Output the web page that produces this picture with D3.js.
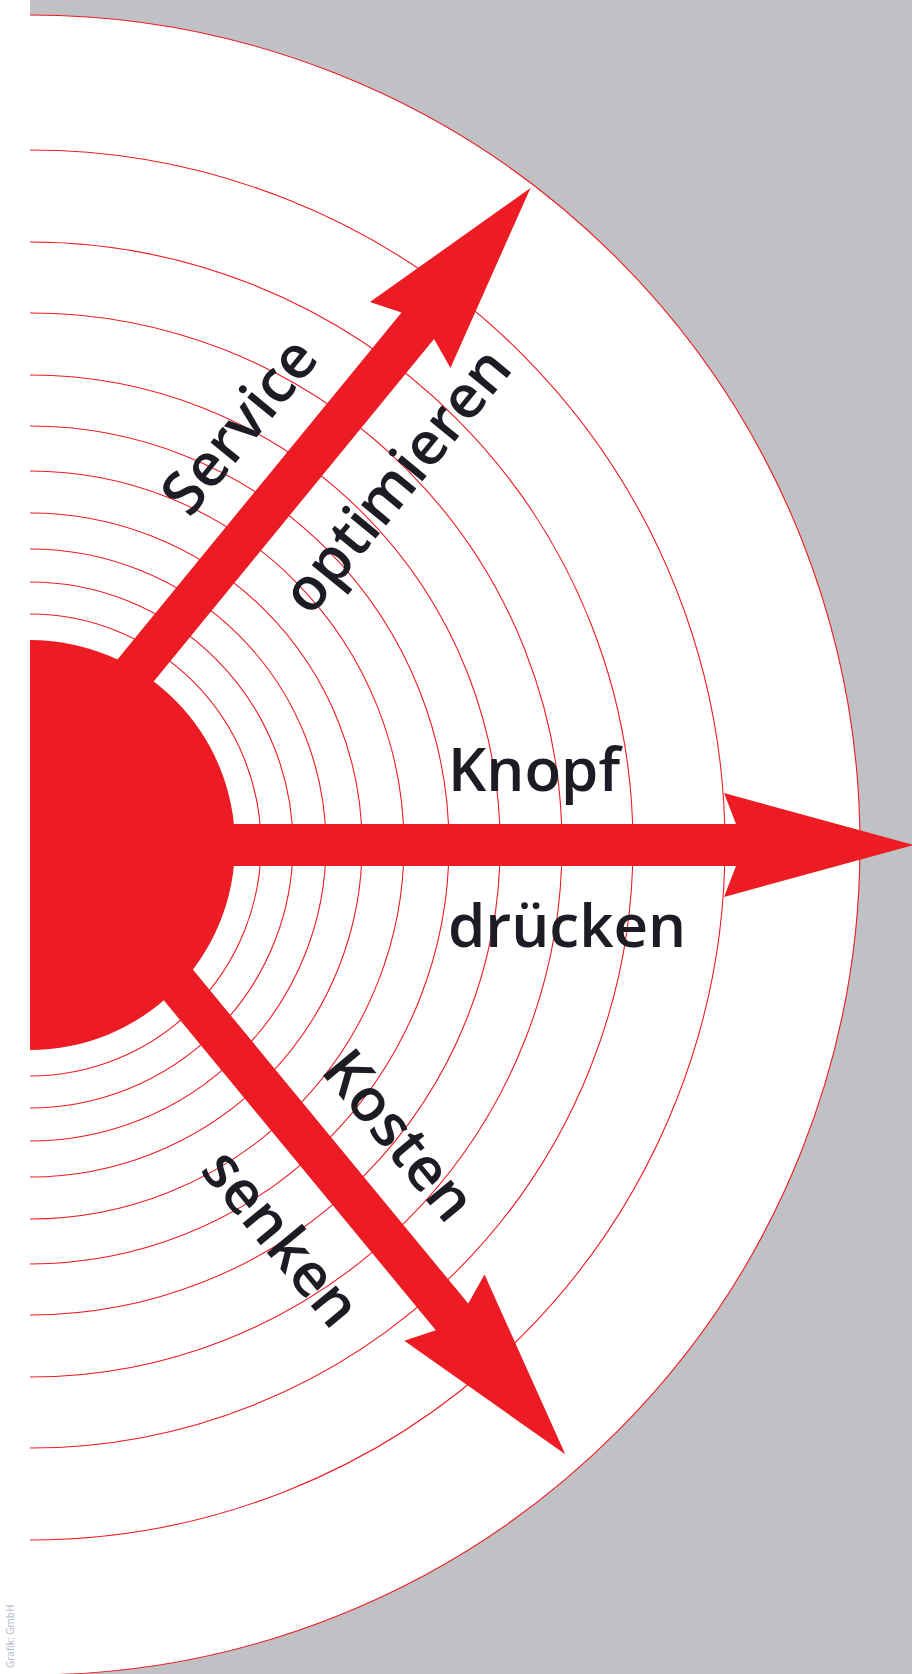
<!DOCTYPE html>
<html>
<head>
<meta charset="utf-8">
<script src="https://cdn.jsdelivr.net/npm/d3@7"></script>
<style>
  html, body { margin: 0; padding: 0; background: #fff; }
  svg { display: block; }
</style>
</head>
<body>
<div id="chart"></div>
<script>
const width = 912;
const height = 1674;

// ring radii from the hub outward (px at full size)
const rings = [231, 263, 296, 332, 374, 419, 470, 532, 603, 695];
const outerRadius = 830;
const hubRadius = 205;

// arrows: tip position in polar coords around the hub, heading of the shaft,
// and shaft length measured back from the tip
const arrowTipAngles = [-52.7, 0, 48.7];
const arrowTipDist = [826, 884, 811];
const arrowHeadings = [-50.7, 0, 50.5];
const arrowBack = [740, 860, 760];
const labelsTop = ["Service", "Knopf", "Kosten"];
const labelsBottom = ["optimieren", "drücken", "senken"];
// where the labels start, counted back from the tip
const labelStart = [472, 466, 452];

const credit = "Grafik: GmbH";

const cx = 30, cy = 845;
const red = "#ed1c24";

const r = d3.scaleLinear().domain([0, outerRadius]).range([0, outerRadius]);
const rad = (deg) => (deg * Math.PI) / 180;

const svg = d3.select("#chart").append("svg")
  .attr("width", width)
  .attr("height", height)
  .attr("viewBox", [0, 0, width, height]);

svg.append("rect")
  .attr("width", width).attr("height", height)
  .attr("fill", "#c0c1c5");

svg.append("rect")
  .attr("width", cx).attr("height", height)
  .attr("fill", "#fff");

const g = svg.append("g").attr("transform", `translate(${cx},${cy})`);

const half = d3.arc().innerRadius(0).startAngle(0).endAngle(Math.PI);
const halfLine = (rr) => {
  const p = d3.path();
  p.moveTo(0, -rr);
  p.arc(0, 0, rr, -Math.PI / 2, Math.PI / 2);
  return p.toString();
};

g.append("path")
  .attr("d", half.outerRadius(r(outerRadius))())
  .attr("fill", "#fff");

g.append("g")
  .selectAll("path")
  .data(rings.concat([outerRadius]))
  .join("path")
  .attr("d", (d) => halfLine(r(d)))
  .attr("fill", "none")
  .attr("stroke", red)
  .attr("stroke-width", 1.1);

// arrow outline with the tip at the origin, pointing along +x
const shaftHalf = 21, headHalf = 52, headLen = 190, notch = 12;
const arrowShape = (back) => [
  [-back, -shaftHalf],
  [-headLen + notch, -shaftHalf],
  [-headLen, -headHalf],
  [0, 0],
  [-headLen, headHalf],
  [-headLen + notch, shaftHalf],
  [-back, shaftHalf],
];
const line = d3.line().curve(d3.curveLinearClosed);

const tipX = (i) => r(arrowTipDist[i]) * Math.cos(rad(arrowTipAngles[i]));
const tipY = (i) => r(arrowTipDist[i]) * Math.sin(rad(arrowTipAngles[i]));

const arrows = g.append("g")
  .selectAll("g")
  .data(arrowHeadings)
  .join("g")
  .attr("transform", (d, i) => `translate(${tipX(i)},${tipY(i)}) rotate(${d})`);

arrows.append("path")
  .attr("d", (d, i) => line(arrowShape(arrowBack[i])))
  .attr("fill", red);

g.append("path")
  .attr("d", half.outerRadius(r(hubRadius))())
  .attr("fill", red);

const fontFamily = "'Open Sans', 'Noto Sans', sans-serif";

const labels = g.append("g")
  .selectAll("g")
  .data(arrowHeadings)
  .join("g")
  .attr("transform", (d, i) => `translate(${tipX(i)},${tipY(i)}) rotate(${d})`)
  .attr("font-family", fontFamily)
  .attr("font-weight", 600)
  .attr("font-size", 60)
  .attr("fill", "#1c1c24");

labels.append("text")
  .attr("x", (d, i) => -labelStart[i])
  .attr("y", -54)
  .text((d, i) => labelsTop[i]);

labels.append("text")
  .attr("x", (d, i) => -labelStart[i])
  .attr("y", 102)
  .text((d, i) => labelsBottom[i]);

svg.append("text")
  .attr("transform", `translate(14,${height - 6}) rotate(-90)`)
  .attr("font-family", fontFamily)
  .attr("font-size", 10)
  .attr("fill", "#b4b8c4")
  .text(credit);
</script>
</body>
</html>
